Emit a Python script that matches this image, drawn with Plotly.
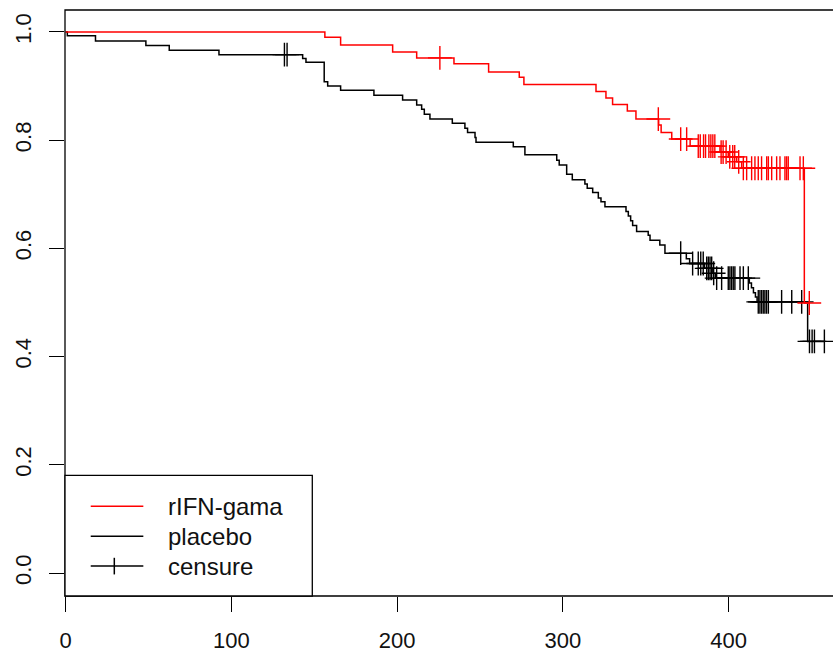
import numpy as np
import plotly.graph_objects as go

# ---- data (Kaplan-Meier estimates) ----
red_name = "rIFN-gama"
red_t = [0, 156.4, 165.9, 197.3, 211.8, 234.3, 255.2, 273.7, 276.5, 320.0, 326.0, 330.0,
         338.9, 344.1, 357.8, 359.3, 365.7, 376.8, 394.8, 399.8, 404.9, 407.9, 445.7]
red_s = [1.0, 0.990, 0.976, 0.963, 0.952, 0.941, 0.926, 0.916, 0.903, 0.890, 0.878, 0.866,
         0.854, 0.839, 0.828, 0.814, 0.802, 0.789, 0.778, 0.769, 0.760, 0.748, 0.499]
red_last = 448.7
red_cens = [225.8, 357.6, 371.1, 374.7, 381.7, 382.9, 384.9, 386.1, 388.1, 389.3, 390.5, 391.7,
            395.5, 396.7, 398.5, 400.7, 402.5, 403.7, 406.1, 408.9, 410.9, 413.9, 415.9, 417.9,
            419.9, 423.0, 424.0, 426.0, 429.0, 431.0, 434.0, 435.0, 436.0, 443.1, 445.1, 448.7]

blk_name = "placebo"
blk_t = [0, 1, 18.0, 48.4, 62.5, 92.5, 143.0, 145.0, 156.0, 158.1, 165.9, 186.0, 203.3, 211.8,
         214.8, 216.4, 219.8, 233.3, 240.9, 242.5, 247.0, 247.6, 270.1, 277.1, 296.3, 297.8,
         302.3, 305.7, 313.3, 314.7, 318.0, 321.4, 323.0, 325.4, 338.1, 339.5, 340.9, 342.1,
         344.5, 351.5, 352.6, 358.5, 361.6, 374.5, 376.5, 385.5, 390.5, 392.0, 412.5, 413.8,
         415.0, 416.2, 417.2, 447.7]
blk_s = [1.0, 0.993, 0.983, 0.975, 0.966, 0.958, 0.951, 0.944, 0.908, 0.900, 0.892, 0.883,
         0.874, 0.865, 0.857, 0.848, 0.839, 0.831, 0.822, 0.814, 0.805, 0.796, 0.788, 0.773,
         0.763, 0.754, 0.737, 0.727, 0.719, 0.711, 0.703, 0.693, 0.686, 0.677, 0.668, 0.660,
         0.651, 0.642, 0.631, 0.624, 0.615, 0.606, 0.591, 0.581, 0.572, 0.563, 0.554, 0.545,
         0.536, 0.527, 0.518, 0.510, 0.501, 0.428]
blk_last = 457.8
blk_cens = [132.0, 133.6, 371.1, 378.3, 381.7, 383.2, 384.7, 386.8, 387.8, 388.8, 389.8, 391.0,
            392.8, 395.8, 399.8, 400.8, 401.8, 402.8, 403.8, 406.9, 408.9, 411.9, 417.9, 418.9,
            419.9, 420.9, 421.9, 422.9, 424.0, 432.0, 438.1, 444.1, 448.8, 450.4, 451.8, 457.8]

x_ticks = [0, 100, 200, 300, 400]
y_ticks = [0.0, 0.2, 0.4, 0.6, 0.8, 1.0]
legend_labels = [red_name, blk_name, "censure"]

FONT = "Liberation Sans, Arial, sans-serif"
RED = "#ff0000"
BLK = "#000000"


def surv_at(times, surv, t):
    idx = np.searchsorted(np.asarray(times), t, side="right") - 1
    return np.asarray(surv)[idx]


fig = go.Figure()

for t, s, last, cens, col in [(blk_t, blk_s, blk_last, blk_cens, BLK),
                              (red_t, red_s, red_last, red_cens, RED)]:
    fig.add_trace(go.Scatter(x=list(t) + [last], y=list(s) + [s[-1]], mode="lines",
                             line=dict(color=col, width=1.5, shape="hv"),
                             showlegend=False, hoverinfo="skip"))
    fig.add_trace(go.Scatter(x=cens, y=surv_at(t, s, cens), mode="markers",
                             marker=dict(symbol="cross-thin", size=17,
                                         line=dict(color=col, width=1.4)),
                             showlegend=False, hoverinfo="skip"))

axis_common = dict(showgrid=False, zeroline=False, showline=False, ticks="outside",
                   ticklen=15, tickwidth=1.3, tickcolor="#000",
                   tickfont=dict(family=FONT, size=22, color="#111"))

fig.update_layout(
    width=833, height=656,
    margin=dict(l=65, r=0, t=10, b=60),
    paper_bgcolor="white", plot_bgcolor="white",
    xaxis=dict(range=[-0.4, 463], tickvals=x_ticks, ticktext=[str(v) for v in x_ticks],
               ticklabelstandoff=10, **axis_common),
    yaxis=dict(range=[-0.0425, 1.0405], tickvals=y_ticks,
               ticktext=[f"{v:.1f}" for v in y_ticks], tickangle=-90,
               ticklabelstandoff=9, **axis_common),
    showlegend=False,
)

# plot box (right side lies beyond the image)
fig.add_shape(type="rect", xref="paper", yref="paper", x0=0, x1=1.1, y0=0, y1=1,
              line=dict(color="#000", width=1.3), layer="above")

# legend box drawn manually
fig.add_shape(type="rect", xref="paper", yref="paper", x0=0, x1=0.322, y0=0, y1=0.206,
              line=dict(color="#000", width=1.3), fillcolor="white", layer="above")
rows = [0.153, 0.102, 0.051]
cols = [RED, BLK, BLK]
for yy, col, lab in zip(rows, cols, legend_labels):
    fig.add_shape(type="line", xref="paper", yref="paper", x0=0.0335, x1=0.102, y0=yy, y1=yy,
                  line=dict(color=col, width=1.5), layer="above")
    fig.add_annotation(xref="paper", yref="paper", x=0.131, y=yy, text=lab, showarrow=False,
                       xanchor="left", yanchor="middle",
                       font=dict(family=FONT, size=24, color="#111"))
fig.add_shape(type="line", xref="paper", yref="paper", x0=0.0642, x1=0.0642,
              y0=rows[2] - 0.0142, y1=rows[2] + 0.0142, line=dict(color=BLK, width=1.5),
              layer="above")

fig.write_html("out.html")
